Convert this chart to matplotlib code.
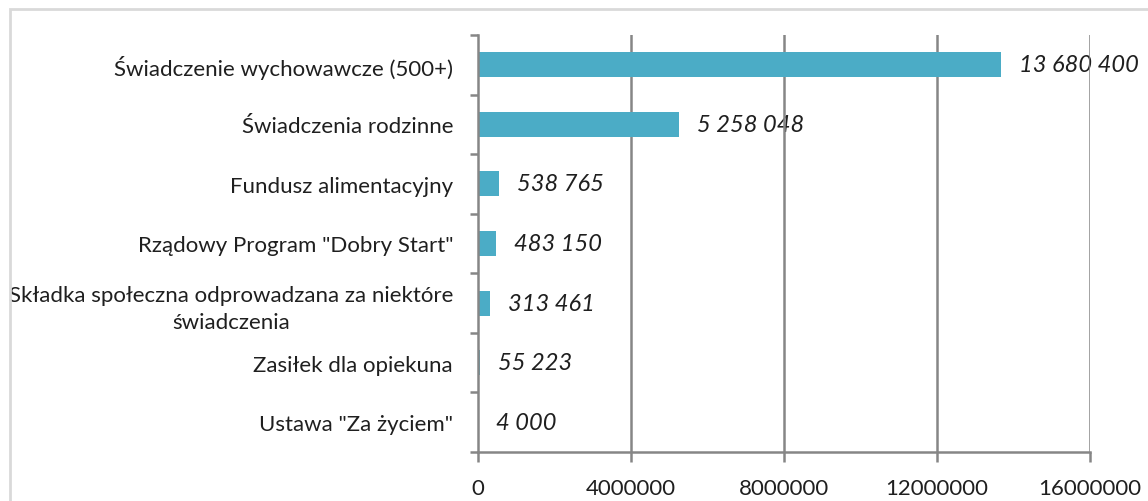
import matplotlib.pyplot as plt
from matplotlib.patches import Rectangle
from matplotlib.ticker import FixedLocator

# data
categories = [
    'Świadczenie wychowawcze (500+)',
    'Świadczenia rodzinne',
    'Fundusz alimentacyjny',
    'Rządowy Program "Dobry Start"',
    'Składka społeczna odprowadzana za niektóre\nświadczenia',
    'Zasiłek dla opiekuna',
    'Ustawa "Za życiem"',
]
values = [13680400, 5258048, 538765, 483150, 313461, 55223, 4000]
x_ticks = [0, 4000000, 8000000, 12000000, 16000000]

plt.rcParams['font.family'] = ['Lato', 'DejaVu Sans']

bar_color = '#4BACC6'
axis_color = '#868686'
text_color = '#1F1F1F'

fig = plt.figure(figsize=(11.48, 5.02), dpi=100)
ax = fig.add_axes([478 / 1148, 1 - 453 / 502, (1090 - 478) / 1148, (453 - 36) / 502])

# light border round the chart area
fig.patches.append(Rectangle((10 / 1148, -0.1), 1.2, 1 - 10 / 502 + 0.1,
                             transform=fig.transFigure, fill=False,
                             edgecolor='#D9D9D9', linewidth=2))

pos = list(range(len(categories)))
ax.barh(pos, values, height=0.42, color=bar_color, linewidth=0, zorder=2.2)

for x in x_ticks[1:]:
    ax.axvline(x, color=axis_color, linewidth=1.8, zorder=2)

for p, v in zip(pos, values):
    lbl = f'{v:,}'.replace(',', ' ')
    ax.annotate(lbl, (v, p), xytext=(18, 0), textcoords='offset pixels',
                va='center', ha='left', fontsize=17, style='italic',
                color=text_color, zorder=1)

ax.set_xlim(0, 16000000)
ax.set_ylim(len(categories) - 0.5, -0.5)
ax.set_xticks(x_ticks)
ax.set_xticklabels([str(t) for t in x_ticks], fontsize=16, color=text_color)
ax.set_yticks(pos)
ax.set_yticklabels(categories, fontsize=16, color=text_color, multialignment='center')
for t in ax.get_yticklabels():
    t.set_linespacing(1.45)
ax.yaxis.set_minor_locator(FixedLocator([i - 0.5 for i in range(len(categories) + 1)]))

ax.tick_params(axis='y', which='major', length=0, pad=18)
ax.tick_params(axis='y', which='minor', length=6, width=1.8, color=axis_color, direction='out')
ax.tick_params(axis='x', length=7, width=1.8, color=axis_color, direction='out', pad=12)

for s in ['top', 'right']:
    ax.spines[s].set_visible(False)
for s in ['left', 'bottom']:
    ax.spines[s].set_color(axis_color)
    ax.spines[s].set_linewidth(1.8)
    ax.spines[s].set_zorder(3)

fig.savefig('out.png', dpi=100)
